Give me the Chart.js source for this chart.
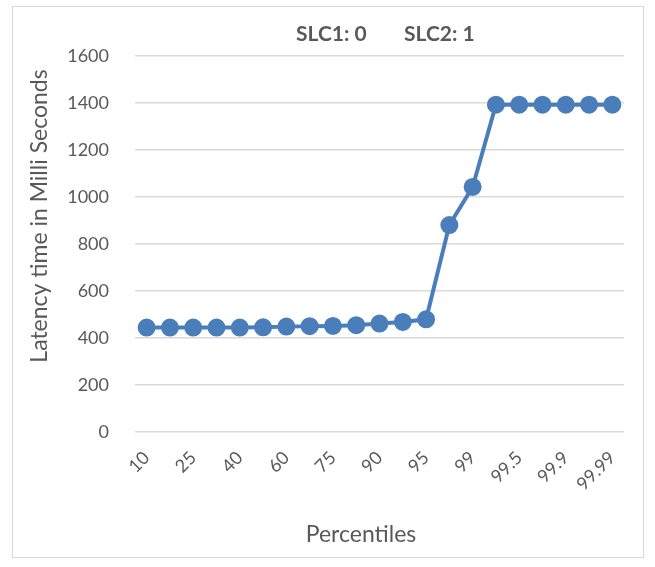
<!DOCTYPE html>
<html>
<head>
<meta charset="utf-8">
<script src="https://cdn.jsdelivr.net/npm/chart.js@4"></script>
<style>
  html, body { margin: 0; padding: 0; background: #fff; }
  #wrap { position: relative; width: 655px; height: 567px; }
  #frame { position: absolute; left: 12px; top: 6px; width: 632px; height: 552px; border: 1px solid #d9d9d9; box-sizing: border-box; }
  canvas { position: absolute; left: 0; top: 0; }
</style>
</head>
<body>
<div id="wrap">
  <div id="frame"></div>
  <canvas id="chartLatency" width="655" height="567"></canvas>
</div>
<script>
// percentile categories (odd ones are unlabeled on the axis)
const percentiles = ["10", "20", "25", "30", "40", "50", "60", "70", "75", "80", "90",
                     "92.5", "95", "97.5", "99", "99.25", "99.5", "99.75", "99.9", "99.95", "99.99"];
const latencyMs = [445, 445, 445, 445, 445, 446, 449, 451, 452, 455, 462,
                   469, 480, 881, 1043, 1393, 1393, 1393, 1393, 1393, 1393];
const yTicks = [0, 200, 400, 600, 800, 1000, 1200, 1400, 1600];

const titleText = ['SLC1: 0', 'SLC2: 1'];
const xTitle = 'Percentiles';
const yTitle = 'Latency time in Milli Seconds';

const gray = '#595959';
const font = 'Lato, "Open Sans", sans-serif';

// titles placed like the Excel original (not centered on the plot)
const textPlugin = {
    id: 'excelText',
    afterDraw(chart) {
        const c = chart.ctx;
        c.save();
        c.fillStyle = gray;
        c.textBaseline = 'middle';
        c.font = 'bold 21px ' + font;
        c.textAlign = 'left';
        c.fillText(titleText[0], 296, 34);
        c.fillText(titleText[1], 404, 34);
        c.font = '23px ' + font;
        c.textAlign = 'center';
        c.fillText(xTitle, 361, 535);
        c.translate(40, 216);
        c.rotate(-Math.PI / 2);
        c.fillText(yTitle, 0, 0);
        c.restore();
    }
};

const ctx = document.getElementById('chartLatency').getContext('2d');
const chart = new Chart(ctx, {
    type: 'line',
    data: {
        labels: percentiles,
        datasets: [{
            label: 'Latency',
            data: latencyMs,
            borderColor: '#4a7ebb',
            backgroundColor: '#4a7ebb',
            borderWidth: 4,
            pointRadius: 7,
            pointHoverRadius: 7,
            tension: 0
        }]
    },
    plugins: [textPlugin],
    options: {
        responsive: false,
        animation: false,
        layout: { padding: { left: 25, right: 31, top: 56, bottom: 65 } },
        plugins: {
            legend: { display: false },
            tooltip: { enabled: false },
            title: { display: false }
        },
        scales: {
            x: {
                offset: true,
                grid: { display: false },
                border: { display: false },
                ticks: {
                    color: gray,
                    font: { family: font, size: 18 },
                    autoSkip: false,
                    minRotation: 45,
                    maxRotation: 45,
                    padding: 7,
                    callback: function (v, i) { return i % 2 === 0 ? percentiles[i] : ''; }
                }
            },
            y: {
                min: 0,
                max: 1600,
                afterBuildTicks: function (s) { s.ticks = yTicks.map(v => ({ value: v })); },
                afterFit: function (s) { s.width = 110; },
                grid: { color: '#d9d9d9', lineWidth: 1.5, drawTicks: false },
                border: { display: false },
                ticks: {
                    color: gray,
                    font: { family: font, size: 18 },
                    padding: 26,
                    callback: function (v) { return String(v); }
                }
            }
        }
    }
});
</script>
</body>
</html>
